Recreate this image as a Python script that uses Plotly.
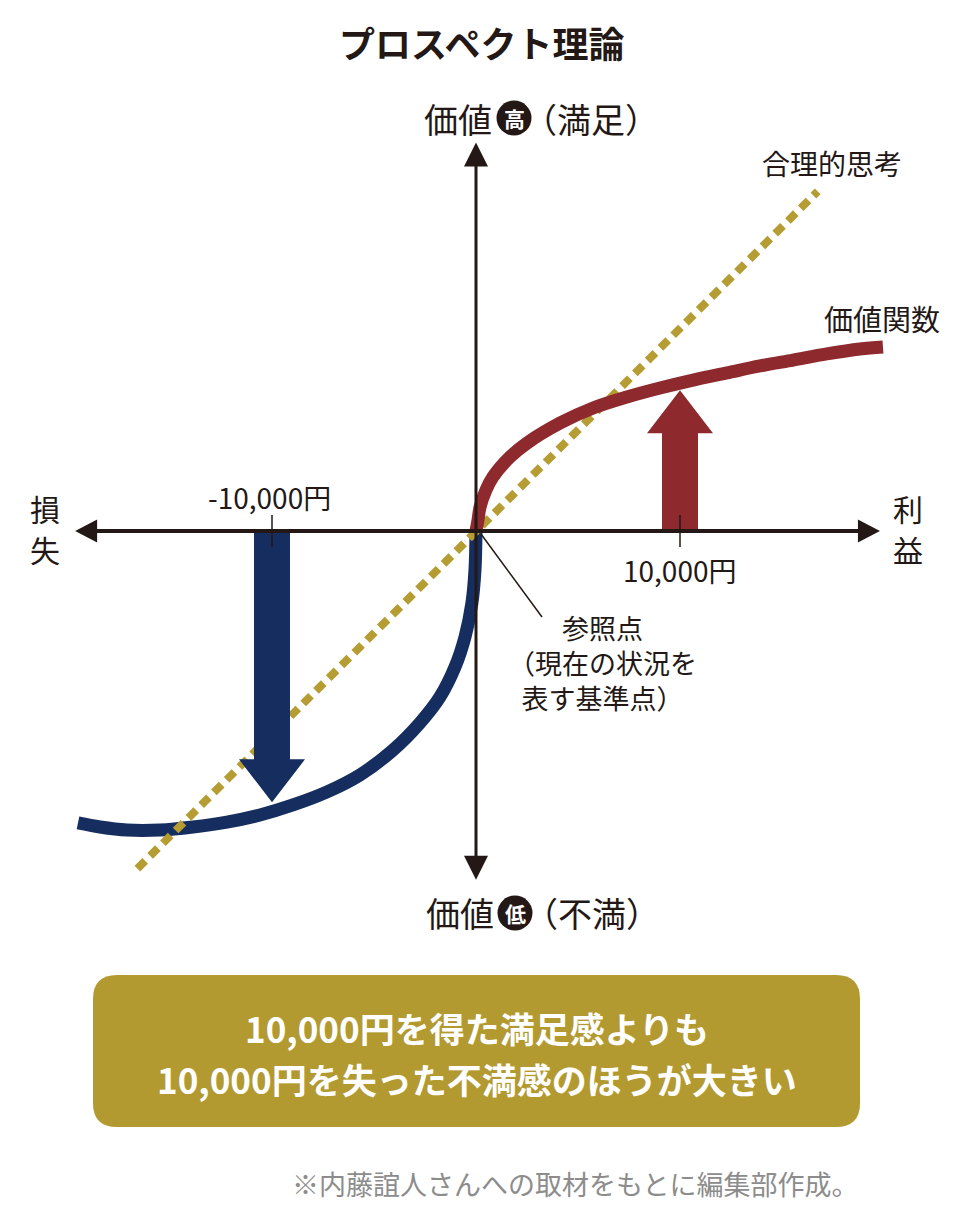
import plotly.graph_objects as go

# ---------------- data ----------------
gain_x = [0, 100, 200, 490, 830, 1670, 2500, 4120, 5740, 7400, 9020, 10640, 12300, 13920, 15540, 17200, 18820, 19950]
gain_v = [0, 540, 1180, 2010, 2650, 3630, 4310, 5290, 6030, 6570, 7010, 7400, 7750, 8090, 8380, 8680, 8920, 9020]
loss_x = [0, -50, -200, -540, -1030, -1770, -2750, -4070, -5690, -7300, -8970, -10590, -12210, -13870, -15490, -17110, -18430, -19510]
loss_v = [0, -1910, -3530, -5200, -6670, -8140, -9410, -10740, -11960, -12790, -13430, -13920, -14270, -14510, -14660, -14660, -14510, -14310]
rational_x = [-16600, 16750]
rational_v = [-16550, 16650]
arrow_x = [10000, -10000]
arrow_v = [6900, -13300]
tick_x = [-10000, 10000]
tick_labels = ["-10,000円", "10,000円"]
axis_x_ext = [-19650, 19800]
axis_v_ext = [-17100, 19050]

# ---------------- layout helpers (page pixel -> data units) ----------------
W, H = 960, 1209
S = 0.0204            # px per data unit
OX, OY = 476, 531     # page position of the origin


def dx(px):
    return (px - OX) / S


def dy(py):
    return (OY - py) / S


def L(px):
    return px / S


FONT = "Noto Sans CJK JP, Noto Sans, sans-serif"
INK = "#231815"
RED = "#8E2A2E"
NAVY = "#152E5F"
GOLD = "#B59D33"
BOX = "#B29A30"

fig = go.Figure()

# loss side of value function
fig.add_trace(go.Scatter(x=loss_x, y=loss_v, mode="lines",
                         line=dict(color=NAVY, width=13, shape="spline", smoothing=1.0),
                         hoverinfo="skip"))
# rational line
fig.add_trace(go.Scatter(x=rational_x, y=rational_v, mode="lines",
                         line=dict(color=GOLD, width=8, dash="11px,7px"),
                         hoverinfo="skip"))
# gain side of value function
fig.add_trace(go.Scatter(x=gain_x, y=gain_v, mode="lines",
                         line=dict(color=RED, width=13, shape="spline", smoothing=1.0),
                         hoverinfo="skip"))

shapes = []

# big arrows at +/-10,000
for ax_, av, col in zip(arrow_x, arrow_v, [RED, NAVY]):
    sgn = 1 if av > 0 else -1
    hw, HW, HL = L(18), L(33), L(43)
    hb = av - sgn * HL
    path = (f"M {ax_-hw},0 L {ax_-hw},{hb} L {ax_-HW},{hb} L {ax_},{av} "
            f"L {ax_+HW},{hb} L {ax_+hw},{hb} L {ax_+hw},0 Z")
    shapes.append(dict(type="path", path=path, xref="x", yref="y",
                       fillcolor=col, line=dict(width=0), layer="above"))

# horizontal axis
ah_len, ah_half = L(22), L(11.5)
shapes.append(dict(type="line", xref="x", yref="y",
                   x0=axis_x_ext[0] + ah_len * 0.8, x1=axis_x_ext[1] - ah_len * 0.8, y0=0, y1=0,
                   line=dict(color=INK, width=4), layer="above"))
xl, xr = axis_x_ext
shapes.append(dict(type="path", xref="x", yref="y", layer="above",
                   path=f"M {xl},0 L {xl+ah_len},{ah_half} L {xl+ah_len},{-ah_half} Z",
                   fillcolor=INK, line=dict(width=0)))
shapes.append(dict(type="path", xref="x", yref="y", layer="above",
                   path=f"M {xr},0 L {xr-ah_len},{ah_half} L {xr-ah_len},{-ah_half} Z",
                   fillcolor=INK, line=dict(width=0)))
# vertical axis
va_len, va_half = L(24), L(12)
yb, yt = axis_v_ext
shapes.append(dict(type="line", xref="x", yref="y",
                   x0=0, x1=0, y0=yb + va_len * 0.8, y1=yt - va_len * 0.8,
                   line=dict(color=INK, width=3), layer="above"))
shapes.append(dict(type="path", xref="x", yref="y", layer="above",
                   path=f"M 0,{yt} L {va_half},{yt-va_len} L {-va_half},{yt-va_len} Z",
                   fillcolor=INK, line=dict(width=0)))
shapes.append(dict(type="path", xref="x", yref="y", layer="above",
                   path=f"M 0,{yb} L {va_half},{yb+va_len} L {-va_half},{yb+va_len} Z",
                   fillcolor=INK, line=dict(width=0)))

# ticks
for tx in tick_x:
    shapes.append(dict(type="line", xref="x", yref="y", x0=tx, x1=tx,
                       y0=L(16), y1=-L(16), line=dict(color=INK, width=1.5), layer="above"))

# leader line for reference point
shapes.append(dict(type="line", xref="x", yref="y", x0=dx(481), y0=dy(534),
                   x1=dx(542), y1=dy(617), line=dict(color=INK, width=1.5), layer="above"))

# badge circles
BR = 17.5
for cx, cy in [(514, 118), (515, 913)]:
    shapes.append(dict(type="circle", xref="x", yref="y",
                       x0=dx(cx - BR), x1=dx(cx + BR), y0=dy(cy + BR), y1=dy(cy - BR),
                       fillcolor=INK, line=dict(width=0), layer="above"))

# rounded box
bx0, bx1, by0, by1, r = dx(93), dx(860), dy(1127), dy(975), L(24)
box_path = (f"M {bx0+r},{by0} L {bx1-r},{by0} Q {bx1},{by0} {bx1},{by0+r} "
            f"L {bx1},{by1-r} Q {bx1},{by1} {bx1-r},{by1} L {bx0+r},{by1} "
            f"Q {bx0},{by1} {bx0},{by1-r} L {bx0},{by0+r} Q {bx0},{by0} {bx0+r},{by0} Z")
shapes.append(dict(type="path", xref="x", yref="y", path=box_path,
                   fillcolor=BOX, line=dict(width=0), layer="below"))

ann = []


def T(text, px, py, size, color=INK, xanchor="center", weight="normal"):
    ann.append(dict(text=text, x=dx(px), y=dy(py), xref="x", yref="y",
                    showarrow=False, xanchor=xanchor, yanchor="middle", align="center",
                    font=dict(family=FONT, size=size, color=color, weight=weight)))


T("プロスペクト理論", 481, 42, 36, weight="bold")
T("価値", 494, 118, 34, xanchor="right")
T("高", 514, 118, 21, color="white", weight="bold")
T("（満足）", 521, 118, 34, xanchor="left")
T("価値", 496, 912, 34, xanchor="right")
T("低", 515, 913, 21, color="white", weight="bold")
T("（不満）", 522, 912, 34, xanchor="left")
T("損", 45, 508, 30)
T("失", 45, 549, 30)
T("利", 908, 508, 30)
T("益", 908, 549, 30)
T(tick_labels[0], OX + tick_x[0] * S - 3, 497, 28)
T(tick_labels[1], OX + tick_x[1] * S, 570, 28)
T("合理的思考", 832, 163, 28)
T("価値関数", 882, 318, 29)
T("参照点<br>（現在の状況を<br>表す基準点）", 602, 662, 27)
T("10,000円を得た満足感よりも", 477, 1027, 35, color="white", weight="bold")
T("10,000円を失った不満感のほうが大きい", 477, 1078, 35, color="white", weight="bold")
T("※内藤誼人さんへの取材をもとに編集部作成。", 290, 1183, 27, color="#8C8C8C", xanchor="left")

fig.update_layout(
    width=W, height=H, margin=dict(l=0, r=0, t=0, b=0),
    paper_bgcolor="white", plot_bgcolor="white", showlegend=False,
    xaxis=dict(visible=False, range=[dx(0), dx(W)], fixedrange=True),
    yaxis=dict(visible=False, range=[dy(H), dy(0)], fixedrange=True),
    shapes=shapes, annotations=ann,
)

fig.write_html("out.html")
